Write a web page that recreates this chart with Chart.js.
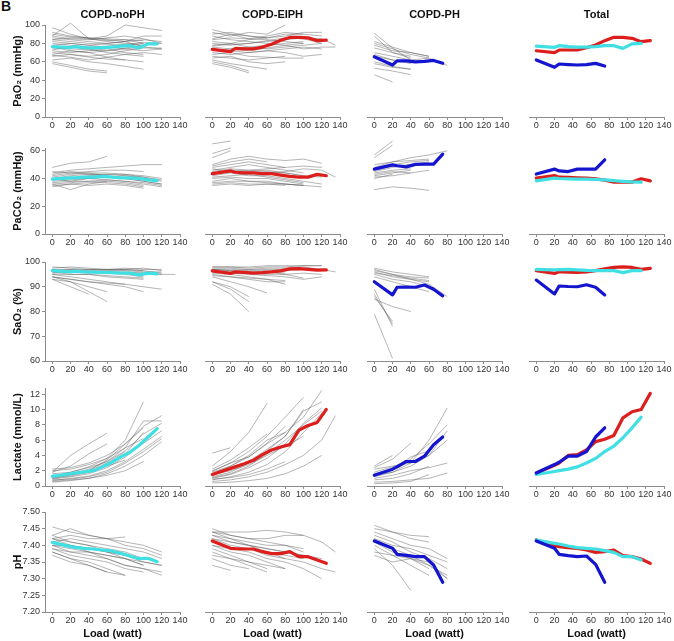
<!DOCTYPE html>
<html>
<head>
<meta charset="utf-8">
<script src="https://cdn.jsdelivr.net/npm/chart.js@4.4.1/dist/chart.umd.min.js"></script>
<style>
  body { margin: 0; background: #fff; width: 674px; height: 641px; position: relative; overflow: hidden; }
  canvas { position: absolute; }
  #tag { position: absolute; left: 1px; top: -1px; font: bold 14px "Liberation Sans", Arial, sans-serif; color: #111; line-height: 14px; }
</style>
</head>
<body>
<div id="tag">B</div>
<script>
// loads (watt) of the group means and of the individual patients
const LOAD = [0, 20, 25, 35, 45, 55, 65, 75, 85, 95, 105, 115, 125];
const GREY_LOAD = [0, 20, 40, 60, 80, 100, 120, 135];

const COL_TITLES = ['COPD-noPH', 'COPD-EIPH', 'COPD-PH', 'Total'];
const X_TICKS = [0, 20, 40, 60, 80, 100, 120, 140];

// PaO2 (mmHg)
const pao2Ticks = [0, 20, 40, 60, 80, 100];
const pao2NoPH = [76.5, 75.5, 76.5, 75.5, 75, 75.5, 76, 77, 77.5, 75, 79.5, 79.5];
const pao2EIPH = [73.5, 71, 74.5, 74, 74, 76, 79, 83.5, 86.5, 86.5, 86, 83, 83.5];
const pao2PH = [65.5, 56.5, 61, 61, 60, 60.5, 61.5, 58.5];
const pao2TotNoPH = [77, 75.7, 77.5, 76.5, 76, 76, 76.5, 77.5, 77.5, 74.6, 79.5, 80];
const pao2TotEIPH = [72, 70, 72.8, 72.8, 72.8, 75.3, 78.3, 83, 86.6, 86.5, 85.5, 81.9, 83];
const pao2TotPH = [62, 54, 57.6, 57, 56.5, 57, 58.3, 55.4];
const pao2NoPHGrey = [
  [97, 90, 85, 82, 80, 78], [88, 102, 85, 83, 84, 80], [84, 86, 85, 88, 100, 97, 94],
  [90, 87, 86, 85, 84, 83], [82, 80, 78, 80, 82, 88, 88], [78, 80, 78, 76, 74, 72, 74],
  [75, 74, 73, 72, 74, 76], [72, 70, 72, 74, 70, 68], [70, 68, 66, 68, 72, 75, 75],
  [68, 72, 70, 65, 62, 60], [66, 68, 65, 63, 62], [62, 64, 60, 58, 55, 52],
  [58, 54, 50, 48], [60, 56, 52, 50], [86, 84, 82, 80, 82, 84, 82],
  [80, 78, 76, 77, 79, 81, 80], [76, 72, 70, 72, 75, 78], [92, 88, 86, 84, 82, 76, 74],
  [73, 76, 74, 70, 68, 66], [67, 65, 62, 65, 68, 70, 68], [84, 82, 80, 79, 78, 80],
  [88, 85, 84, 86, 88, 85, 80]
];
const pao2EIPHGrey = [
  [95, 90, 85, 88, 92, 90], [92, 88, 92, 90, 100], [85, 90, 88, 86, 88, 92, 92],
  [82, 80, 84, 86, 90, 90, 88], [80, 78, 80, 82, 84, 86, 85, 78], [78, 80, 76, 78, 80, 82],
  [76, 74, 76, 74, 76, 78, 80], [74, 72, 70, 72, 74, 76, 74], [72, 74, 72, 75, 78, 80],
  [70, 68, 70, 72, 70, 66, 68], [68, 70, 66, 65, 64, 64], [66, 64, 62, 64, 66],
  [64, 66, 60, 58, 60], [62, 58, 55, 52], [58, 54, 48], [60, 56, 50],
  [84, 86, 85, 84, 82, 80], [88, 84, 82, 80, 78, 74, 76, 76], [77, 79, 80, 83, 86, 85, 80],
  [90, 92, 88, 86]
];
const pao2PHGrey = [
  [91, 75, 62], [88, 70, 64], [82, 76, 70, 66], [80, 74, 68, 64, 56], [78, 72, 70, 66],
  [75, 70, 66], [70, 66, 62, 64], [68, 62, 58], [66, 62, 60, 60], [58, 54, 52],
  [53, 50, 46], [46, 38], [60, 55, 52]
];

// PaCO2 (mmHg)
const paco2Ticks = [0, 20, 40, 60];
const paco2NoPH = [39.5, 40.5, 40.5, 41, 41, 41.5, 41, 40.5, 40.5, 40, 39, 38.5];
const paco2EIPH = [43.5, 45.5, 44.5, 44, 44, 43.5, 43.5, 42.5, 41.5, 41, 41, 43, 42];
const paco2PH = [46.8, 49.8, 49.2, 48.4, 50.2, 50.4, 50.4, 57.6];
const paco2TotNoPH = [38.3, 40.3, 40, 39.8, 39.5, 39.5, 39.3, 39, 38.5, 38, 37.6, 37.4];
const paco2TotEIPH = [40.3, 42.2, 41, 40.8, 40.5, 40.3, 39.8, 38.8, 37.4, 37.4, 37.4, 39.8, 38.3];
const paco2TotPH = [43.2, 46.8, 45.5, 45, 46.8, 46.8, 46.8, 53.5];
const paco2NoPHGrey = [
  [48, 51, 52, 56], [44, 46, 47, 48, 49, 50, 50], [42, 44, 45, 46, 46, 45],
  [41, 43, 44, 44, 43, 42, 40], [40, 42, 43, 43, 42, 40], [39, 40, 42, 43, 43, 41, 39],
  [38, 39, 40, 41, 40, 38, 36], [37, 38, 38, 39, 38, 36, 34], [36, 37, 38, 38, 37, 35],
  [35, 36, 37, 37, 36, 34], [36, 32, 36, 38], [34, 36, 35, 36, 35, 33],
  [43, 45, 44, 42, 40, 38, 36], [39, 41, 40, 39, 38, 37, 35], [45, 44, 43, 42],
  [40, 38, 40, 41, 42, 41, 38]
];
const paco2EIPHGrey = [
  [65, 67], [58, 62], [55, 60], [50, 54, 56, 54, 53, 54, 51], [49, 52, 54, 52],
  [48, 50, 52, 50, 48], [46, 48, 50, 48, 46, 44], [45, 47, 46, 45, 44, 42],
  [44, 46, 45, 46, 44, 42, 41], [42, 44, 42, 42, 40, 38, 36], [41, 42, 43, 41, 39, 37],
  [40, 41, 40, 40, 38, 36], [38, 40, 38, 38, 36, 35, 34], [37, 38, 38, 37, 36, 35],
  [36, 37, 36, 36, 35], [35, 36, 35, 36, 36, 35], [43, 45, 44, 44, 45, 47, 46, 41],
  [47, 45, 46, 47, 48, 49, 48]
];
const paco2PHGrey = [
  [57, 67], [55, 64], [50, 52, 55, 57, 60], [48, 52, 53, 54], [47, 50, 52, 53],
  [46, 49, 50, 52], [45, 48, 50], [44, 46, 47], [43, 45, 44], [42, 44, 46],
  [40, 43], [32, 34, 33, 31.5], [41, 42, 44, 46]
];

// SaO2 (%)
const sao2Ticks = [60, 70, 80, 90, 100];
const sao2NoPH = [96.5, 96, 96.3, 96, 95.9, 95.8, 95.7, 95.5, 95.5, 94.8, 95.5, 95.2];
const sao2EIPH = [96.4, 95.4, 96, 95.8, 95.5, 95.7, 96, 96.4, 97.2, 97.3, 97, 96.7, 96.8];
const sao2PH = [92, 86.7, 89.8, 89.9, 89.8, 90.7, 89, 86.3];
const sao2TotNoPH = [97, 96.8, 96.9, 97, 96.8, 96.6, 96.5, 96.5, 96.5, 95.7, 96.5, 96.5];
const sao2TotEIPH = [96.5, 95.4, 96.1, 95.9, 95.8, 96, 96.5, 97.2, 97.8, 98, 97.8, 97, 97.4];
const sao2TotPH = [92.7, 87.1, 90.3, 90.1, 90, 90.8, 89.8, 86.7];
const sao2NoPHGrey = [
  [97.5, 98, 97.5, 97, 97, 97.5, 96.5], [97, 97, 96.8, 96.8, 96.8, 96.5, 95.5],
  [96.5, 97, 96.5, 96.5, 97, 96.5], [96, 96.5, 96, 96, 95.5, 95.5, 95],
  [95.5, 96, 96, 95.5, 95, 94], [95, 95, 95, 94.5, 94, 93.5], [97, 96, 97, 97, 96.5, 96, 96],
  [94, 93, 92, 91.5, 91], [94, 93, 92, 91, 90, 88], [93, 90, 87], [94, 92, 88, 84],
  [93, 92, 90, 88], [95, 94, 93, 92, 91, 90, 89], [96, 95, 95, 94, 93.5, 93],
  [98, 97.5, 97, 97, 97.5, 97, 97], [96, 96, 95.5, 96, 96, 95.5, 95, 95]
];
const sao2EIPHGrey = [
  [98, 98, 97.5, 98, 98, 98.5, 98.5], [97.5, 97.5, 97, 97.5, 97.5, 98, 97],
  [97, 97, 96.5, 97, 97, 97], [97, 96.5, 97, 96.5, 96.5, 97, 97, 96],
  [96.5, 96, 96, 96, 95.5], [96, 95.5, 95, 94.5, 94, 93, 94], [95, 94, 93, 92, 92],
  [95.5, 95, 94, 93, 91], [94, 92, 90, 87.5], [92, 89, 84], [91, 87, 80], [92, 90, 86],
  [97, 96.5, 96, 96, 95, 93.5], [96, 95.5, 95.5, 95, 95, 95.5, 95], [94.5, 94, 93.5, 93, 92.5],
  [98, 98, 98, 98.5, 98.5, 98.5, 98.5]
];
const sao2PHGrey = [
  [97.5, 96, 95, 94], [97, 95, 93, 91, 86], [96.5, 95, 94, 93.5], [96, 94, 93, 92],
  [95.5, 94.5, 93.5, 92.5], [95, 93, 92, 90], [94, 92, 90, 88], [86, 76], [79, 61],
  [85, 82, 80], [89, 74], [87, 75]
];

// Lactate (mmol/L)
const lactTicks = [0, 2, 4, 6, 8, 10, 12];
const lactNoPH = [1.26, 1.6, 1.7, 1.85, 2.0, 2.5, 3.1, 3.8, 4.4, 5.3, 6.4, 7.5];
const lactEIPH = [1.5, 2.3, 2.5, 2.9, 3.35, 4.1, 4.7, 5.1, 5.4, 7.3, 7.9, 8.3, 10.0];
const lactPH = [1.4, 2.2, 2.5, 3.2, 3.2, 3.9, 5.4, 6.4];
const lactTotNoPH = [1.5, 1.9, 2.0, 2.2, 2.5, 3.0, 3.6, 4.5, 5.2, 6.3, 7.6, 9.0];
const lactTotEIPH = [1.7, 2.7, 3.0, 4.0, 4.1, 4.7, 5.8, 6.1, 6.6, 8.9, 9.7, 10.0, 12.1];
const lactTotPH = [1.7, 2.8, 3.1, 3.9, 3.9, 4.5, 6.4, 7.6];
const lactNoPHGrey = [
  [1.8, 4.0, 5.5, 6.9], [1.2, 1.8, 2.5, 3.6, 6.0, 11.0], [1.0, 1.5, 2.2, 3.2, 5.0, 8.5, 8.5],
  [2.2, 2.4, 3.0, 4.0, 5.5, 7.8, 9.2], [1.6, 1.8, 2.4, 3.2, 4.6, 6.8, 8.2],
  [0.9, 1.2, 1.6, 2.4, 3.8, 5.6, 7.2], [0.7, 1.0, 1.3, 2.0, 3.2, 4.8, 6.5],
  [0.6, 0.8, 1.0, 1.6, 2.6, 4.0, 5.8], [1.3, 1.6, 2.0, 3.0, 4.5], [2.0, 2.2, 2.8, 3.6, 5.0, 6.2],
  [1.0, 1.3, 1.8, 2.8, 4.2, 7.0], [0.8, 0.9, 1.2, 1.8, 3.0, 4.5, 6.2], [1.4, 1.5, 1.8, 2.6, 3.4],
  [0.5, 0.7, 1.0, 1.4, 2.0, 3.2], [1.8, 2.6, 4.2, 5.5], [1.1, 1.4, 2.0, 3.4, 5.5, 7.6]
];
const lactEIPHGrey = [
  [4.3, 5.0], [2.0, 3.0, 4.5, 6.5, 9.0, 11.6], [2.6, 4.5, 7.0, 10.8],
  [1.6, 2.6, 3.8, 5.5, 7.0, 9.0, 12.5], [1.2, 1.8, 3.0, 4.6, 6.5, 9.8, 11.0],
  [1.0, 1.5, 2.4, 3.6, 5.5, 8.2, 10.2], [0.8, 1.2, 1.8, 2.8, 4.5, 7.0, 9.5],
  [1.8, 2.6, 4.0, 6.0, 7.0], [1.4, 2.2, 3.2, 4.8, 6.5, 10.0],
  [0.6, 0.8, 1.2, 1.8, 2.8, 4.0, 6.0, 9.2], [0.9, 1.1, 1.5, 2.2, 3.2],
  [0.4, 0.5, 0.7, 1.0, 1.6, 2.6, 4.0], [2.2, 3.4, 5.0, 6.8], [1.5, 2.0, 2.8, 4.0, 5.2, 6.5],
  [1.1, 1.6, 2.6, 4.2, 6.0, 8.0, 9.8], [1.9, 3.0, 3.8, 5.6, 7.8]
];
const lactPHGrey = [
  [1.2, 1.8, 3.0, 6.0, 10.2], [2.6, 4.0], [2.4, 3.5, 5.6], [1.8, 2.5, 3.5, 5.5, 8.0],
  [1.4, 1.8, 2.6, 4.0, 6.0], [1.0, 1.4, 2.0, 2.4, 3.0], [0.8, 1.0, 1.6, 2.6],
  [0.5, 0.6, 0.8, 1.0, 1.7], [0.3, 0.4, 0.6, 1.5], [1.6, 2.2, 3.8, 4.6], [2.2, 2.6, 3.0, 4.0, 7.2]
];

// pH
const phTicks = [7.20, 7.25, 7.30, 7.35, 7.40, 7.45, 7.50];
const phNoPH = [7.409, 7.396, 7.394, 7.391, 7.389, 7.386, 7.383, 7.376, 7.368, 7.36, 7.361, 7.351];
const phEIPH = [7.413, 7.391, 7.39, 7.389, 7.389, 7.381, 7.375, 7.375, 7.381, 7.366, 7.366, 7.356, 7.346];
const phPH = [7.413, 7.391, 7.373, 7.37, 7.366, 7.366, 7.341, 7.289];
const phTotNoPH = [7.416, 7.406, 7.404, 7.398, 7.393, 7.391, 7.389, 7.384, 7.379, 7.366, 7.366, 7.356];
const phTotEIPH = [7.416, 7.399, 7.396, 7.393, 7.391, 7.386, 7.379, 7.381, 7.386, 7.369, 7.366, 7.359, 7.346];
const phTotPH = [7.413, 7.391, 7.373, 7.369, 7.366, 7.368, 7.343, 7.289];
const phNoPHGrey = [
  [7.455, 7.44, 7.43, 7.42, 7.41, 7.40, 7.38], [7.43, 7.45, 7.43, 7.42, 7.40, 7.39, 7.37],
  [7.42, 7.43, 7.42, 7.42, 7.425], [7.42, 7.41, 7.40, 7.39, 7.38, 7.36],
  [7.41, 7.40, 7.39, 7.38, 7.37, 7.35, 7.34], [7.40, 7.39, 7.38, 7.37, 7.36, 7.34],
  [7.40, 7.38, 7.37, 7.36, 7.34, 7.33, 7.31], [7.39, 7.37, 7.36, 7.35, 7.33, 7.32],
  [7.38, 7.36, 7.35, 7.33, 7.31], [7.37, 7.35, 7.34, 7.32], [7.38, 7.36, 7.34, 7.32, 7.31],
  [7.41, 7.42, 7.41, 7.40, 7.39, 7.38, 7.36], [7.43, 7.41, 7.40, 7.38, 7.36, 7.34],
  [7.39, 7.38, 7.38, 7.37, 7.36, 7.35, 7.34], [7.42, 7.40, 7.38, 7.36, 7.34, 7.33, 7.32],
  [7.40, 7.40, 7.39, 7.38, 7.37]
];
const phEIPHGrey = [
  [7.44, 7.44, 7.44, 7.445, 7.44, 7.43, 7.41, 7.38], [7.45, 7.43, 7.42, 7.42, 7.43, 7.43],
  [7.44, 7.42, 7.41, 7.40, 7.40, 7.39], [7.43, 7.41, 7.40, 7.39, 7.38, 7.37, 7.35],
  [7.42, 7.40, 7.39, 7.38, 7.36, 7.35, 7.33, 7.32], [7.41, 7.39, 7.38, 7.36, 7.35, 7.33, 7.30],
  [7.40, 7.38, 7.37, 7.35, 7.33], [7.39, 7.37, 7.35, 7.33], [7.38, 7.36, 7.34, 7.32],
  [7.36, 7.34, 7.33], [7.34, 7.325], [7.42, 7.41, 7.40, 7.38, 7.37, 7.36],
  [7.43, 7.42, 7.40, 7.39, 7.38, 7.37, 7.36], [7.40, 7.39, 7.39, 7.37, 7.36],
  [7.44, 7.43, 7.42, 7.41, 7.40, 7.38], [7.37, 7.36, 7.35, 7.34, 7.33]
];
const phPHGrey = [
  [7.46, 7.44, 7.43, 7.426], [7.45, 7.44, 7.42, 7.41], [7.44, 7.42, 7.40, 7.39, 7.36],
  [7.43, 7.41, 7.38, 7.36, 7.33], [7.42, 7.39, 7.37, 7.34, 7.31], [7.41, 7.38, 7.36, 7.34, 7.30],
  [7.40, 7.37, 7.34, 7.31], [7.39, 7.34, 7.265], [7.38, 7.37, 7.36, 7.35, 7.30],
  [7.37, 7.35, 7.36, 7.33], [7.42, 7.40, 7.39, 7.37, 7.35]
];

const rows = [
  { label: 'PaO₂ (mmHg)', min: 0, max: 100, ticks: pao2Ticks,
    grey: [pao2NoPHGrey, pao2EIPHGrey, pao2PHGrey], mean: [pao2NoPH, pao2EIPH, pao2PH],
    total: [pao2TotNoPH, pao2TotEIPH, pao2TotPH] },
  { label: 'PaCO₂ (mmHg)', min: 0, max: 62, ticks: paco2Ticks,
    grey: [paco2NoPHGrey, paco2EIPHGrey, paco2PHGrey], mean: [paco2NoPH, paco2EIPH, paco2PH],
    total: [paco2TotNoPH, paco2TotEIPH, paco2TotPH] },
  { label: 'SaO₂ (%)', min: 60, max: 100, ticks: sao2Ticks,
    grey: [sao2NoPHGrey, sao2EIPHGrey, sao2PHGrey], mean: [sao2NoPH, sao2EIPH, sao2PH],
    total: [sao2TotNoPH, sao2TotEIPH, sao2TotPH] },
  { label: 'Lactate (mmol/L)', min: 0, max: 12.8, ticks: lactTicks,
    grey: [lactNoPHGrey, lactEIPHGrey, lactPHGrey], mean: [lactNoPH, lactEIPH, lactPH],
    total: [lactTotNoPH, lactTotEIPH, lactTotPH] },
  { label: 'pH', min: 7.2, max: 7.5, ticks: phTicks, fmt: v => v.toFixed(2),
    grey: [phNoPHGrey, phEIPHGrey, phPHGrey], mean: [phNoPH, phEIPH, phPH],
    total: [phTotNoPH, phTotEIPH, phTotPH] }
];

// layout of the grid (chart area edges in page pixels)
const COL_X = [45, 205, 367, 529];
const PLOT_W = 135;
const ROW_TOP = [25, 148, 262, 388, 512];
const ROW_BOT = [117, 234, 361, 486, 612];
const GROUP_COLORS = ['#3fdfe3', '#dc1f1d', '#1515cf'];
const FONT = '"Liberation Sans", Arial, sans-serif';
const AXIS = '#8c8c8c';

function pts(xs, ys) {
  return ys.map((y, i) => ({ x: xs[i], y: y }));
}

function greyLine(ys) {
  return { data: pts(GREY_LOAD, ys), borderColor: 'rgba(90,90,90,0.6)', borderWidth: 0.75,
           pointRadius: 0, clip: false, order: 2 };
}

function meanLine(ys, g) {
  return { data: pts(LOAD, ys), borderColor: GROUP_COLORS[g], borderWidth: 3.2,
           borderJoinStyle: 'round', borderCapStyle: 'round', pointRadius: 0, clip: false, order: 1 };
}

rows.forEach((row, r) => {
  for (let c = 0; c < 4; c++) {
    const leftPad = c === 0 ? 45 : 10;
    const rightPad = 14;
    const top = r === 0 ? 0 : ROW_TOP[r] - 10;
    const xH = r === 4 ? 641 - ROW_BOT[r] : 15;
    const canvas = document.createElement('canvas');
    canvas.width = leftPad + PLOT_W + rightPad;
    canvas.height = ROW_BOT[r] - top + xH;
    canvas.style.left = (COL_X[c] - leftPad) + 'px';
    canvas.style.top = top + 'px';
    document.body.appendChild(canvas);

    let datasets = [];
    if (c < 3) {
      datasets = row.grey[c].map(greyLine);
      datasets.push(meanLine(row.mean[c], c));
    } else {
      datasets = [meanLine(row.total[0], 0), meanLine(row.total[1], 1), meanLine(row.total[2], 2)];
      datasets[2].order = 0;
    }

    new Chart(canvas, {
      type: 'line',
      data: { datasets: datasets },
      options: {
        responsive: false,
        animation: false,
        devicePixelRatio: 1,
        layout: { padding: { left: c === 0 ? 0 : 10, right: rightPad, top: r === 0 ? 0 : 10, bottom: 0 } },
        plugins: {
          legend: { display: false },
          tooltip: { enabled: false },
          title: {
            display: r === 0, text: COL_TITLES[c], fullSize: false, color: '#111',
            font: { family: FONT, size: 11, weight: 'bold' }, padding: { top: 8.4, bottom: 3.4 }
          }
        },
        scales: {
          x: {
            type: 'linear', min: -8, max: 140,
            afterBuildTicks: s => { s.ticks = X_TICKS.map(v => ({ value: v })); },
            afterFit: s => { s.height = xH; },
            grid: { drawOnChartArea: false, tickLength: 3, color: AXIS },
            border: { color: AXIS },
            ticks: { color: '#333', padding: 0, maxRotation: 0, autoSkip: false, font: { family: FONT, size: 9 } },
            title: {
              display: r === 4, text: 'Load (watt)', color: '#111',
              font: { family: FONT, size: 11, weight: 'bold' }, padding: { top: 0, bottom: 0 }
            }
          },
          y: {
            display: c === 0,
            min: row.min, max: row.max,
            afterBuildTicks: s => { s.ticks = row.ticks.map(v => ({ value: v })); },
            afterFit: s => { s.width = c === 0 ? 45 : 0; },
            grid: { drawOnChartArea: false, tickLength: 3, color: AXIS },
            border: { color: AXIS },
            ticks: { color: '#333', padding: 2, autoSkip: false, font: { family: FONT, size: 9 },
                     callback: row.fmt ? row.fmt : (v => v) },
            title: {
              display: true, text: row.label, color: '#111',
              font: { family: FONT, size: 11, weight: 'bold' }, padding: { top: 11.4, bottom: 0 }
            }
          }
        }
      }
    });
  }
});
</script>
</body>
</html>
